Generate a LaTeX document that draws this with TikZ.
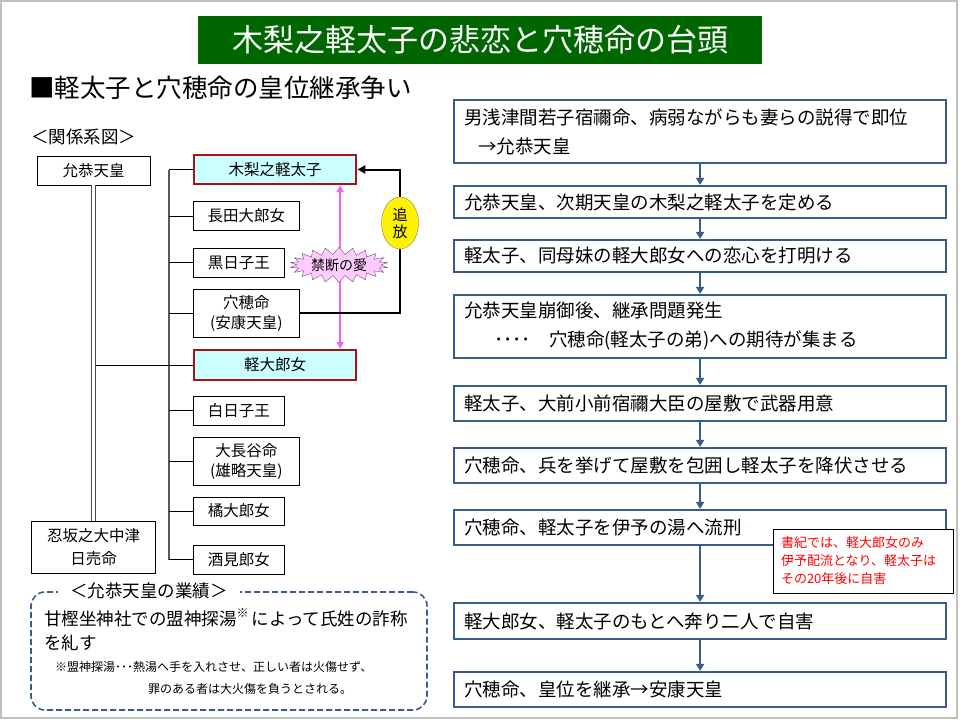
\documentclass[tikz,border=0pt]{standalone}
\usepackage{fontspec}
\setmainfont{Noto Sans CJK JP}
\usepackage{xcolor}
\usepackage{tikz}
\usetikzlibrary{arrows.meta, positioning, shapes.geometric, shapes.symbols, calc}
\definecolor{titlegreen}{RGB}{0, 102, 0}
\definecolor{flowblue}{RGB}{56, 93, 138}
\definecolor{heirred}{RGB}{165, 20, 20}
\definecolor{heircyan}{RGB}{204, 255, 255}
\definecolor{lovepink}{RGB}{240, 100, 240}
\definecolor{burstfill}{RGB}{255, 204, 255}

\begin{document}
\begin{tikzpicture}[
  x=1pt, y=-1pt,
  fam/.style={draw=black, line width=0.9pt, inner sep=0pt, minimum height=29pt, align=center, anchor=west, font=\fontsize{15.5}{20}\selectfont},
  heir/.style={fam, draw=heirred, line width=2.4pt, fill=heircyan, minimum width=162pt},
  flow/.style={draw=flowblue, line width=2.2pt, inner xsep=10pt, inner ysep=0pt, text width=472pt, align=left, anchor=west, font=\fontsize{18.5}{29}\selectfont},
  flowarrow/.style={-{Triangle[length=7pt, width=8pt]}, line width=2.2pt, draw=flowblue},
  branch/.style={line width=0.9pt},
  bus/.style={draw=gray!70!black, line width=1.4pt},
  love/.style={{Triangle[length=7pt, width=7pt]}-{Triangle[length=7pt, width=7pt]}, line width=1.8pt, draw=lovepink},
  banish/.style={-{Triangle[length=8pt, width=8pt]}, line width=2pt},
  burst/.style={starburst, starburst points=22, starburst point height=7pt, random starburst=0, draw=violet!50!gray, fill=burstfill, inner sep=1pt, minimum width=98pt, minimum height=35pt, font=\fontsize{14}{16}\selectfont},
  oval/.style={ellipse, draw=gray, fill=yellow, inner sep=0pt, minimum width=37pt, minimum height=52pt, align=center, font=\fontsize{15}{17}\selectfont},
  plain/.style={inner sep=0pt, anchor=west}
]
  \useasboundingbox (0,0) rectangle (960,720);
  \draw[gray!50, line width=1.5pt] (1,1) rectangle (957,718);

  % Titolo
  \node[fill=titlegreen, text=white, minimum width=564pt, minimum height=48pt, font=\fontsize{31}{36}\selectfont] (title) at (480,40) {木梨之軽太子の悲恋と穴穂命の台頭};
  \node[plain, font=\fontsize{25.5}{30}\selectfont] (subhead) at (29,88) {■軽太子と穴穂命の皇位継承争い};
  \node[plain, font=\fontsize{17.5}{20}\selectfont] (treehead) at (31,137) {＜関係系図＞};

  % Genitori
  \node[fam, anchor=center, minimum width=113pt] (ingyo) at (93.5,170.5) {允恭天皇};
  \node[fam, anchor=center, minimum width=124pt, minimum height=52pt, font=\fontsize{15.5}{23}\selectfont] (osaka) at (93.5,547) {忍坂之大中津\\日売命};

  % Figli
  \node[heir] (kinashi) at (193,169.5) {木梨之軽太子};
  \node[fam, minimum width=106pt] (nagata) at (193,216) {長田大郎女};
  \node[fam, minimum width=91pt] (kurohiko) at (193,262.5) {黒日子王};
  \node[fam, minimum width=106pt, minimum height=48pt] (anaho) at (193,313) {穴穂命\\(安康天皇)};
  \node[heir, minimum height=30pt] (karuoiratsume) at (193,365) {軽大郎女};
  \node[fam, minimum width=91pt] (shirohiko) at (193,410.5) {白日子王};
  \node[fam, minimum width=106pt, minimum height=48pt] (ohatsuse) at (193,461) {大長谷命\\(雄略天皇)};
  \node[fam, minimum width=91pt, minimum height=28pt] (tachibana) at (193,511) {橘大郎女};
  \node[fam, minimum width=91pt] (sakami) at (193,559.5) {酒見郎女};

  \draw[double, draw=gray!60!black, line width=1pt, double distance=2.4pt] (ingyo.south) -- (osaka.north);
  \draw[bus] ([xshift=-24pt]kinashi.west) -- ([xshift=-24pt]sakami.west);
  \foreach \c in {kinashi, nagata, kurohiko, anaho, shirohiko, ohatsuse, tachibana, sakami}
    \draw[branch] (\c.west) -- ++(-24,0);
  \draw[branch] ($(ingyo.south |- karuoiratsume.west)+(2.5,0)$) -- (karuoiratsume.west);

  %禁断の愛 e 追放
  \draw[love] ([xshift=65pt]kinashi.south) -- ([xshift=65pt]karuoiratsume.north);
  \node[burst] (taboo) at (339,265) {禁断の愛};
  \coordinate (bend) at (400,169.5);
  \draw[banish] (anaho.east) -| (bend) -- (kinashi.east);
  \node[oval] (tsuiho) at (400,223) {追\\放};

  %業績
  \node[draw=flowblue, line width=1.6pt, dash pattern=on 6pt off 3pt, rounded corners=14pt, minimum width=396pt, minimum height=118pt] (achv) at (229,651) {};
  \node[fill=white, inner xsep=12pt, inner ysep=1pt, font=\fontsize{17.5}{20}\selectfont] (achvtitle) at (149,591) {＜允恭天皇の業績＞};
  \node[plain, font=\fontsize{17.5}{20}\selectfont] (achv1) at (44,618) {甘樫坐神社での盟神探湯\raisebox{8pt}{\fontsize{12}{12}\selectfont ※}\hspace{3pt}によって氏姓の詐称};
  \node[plain, font=\fontsize{17.5}{20}\selectfont] (achv2) at (44,643) {を糺す};
  \node[plain, font=\fontsize{12}{14}\selectfont] (note1) at (55,667) {※盟神探湯･･･熱湯へ手を入れさせ、正しい者は火傷せず、};
  \node[plain, font=\fontsize{12}{14}\selectfont] (note2) at (148,689) {罪のある者は大火傷を負うとされる。};

  % Passi
  \node[flow, minimum height=63pt] (f1) at (453,131.5) {男浅津間若子宿禰命、病弱ながらも妻らの説得で即位\\\hspace*{14pt}→允恭天皇};
  \node[flow, minimum height=32pt] (f2) at (453,202) {允恭天皇、次期天皇の木梨之軽太子を定める};
  \node[flow, minimum height=32pt] (f3) at (453,256) {軽太子、同母妹の軽大郎女への恋心を打明ける};
  \node[flow, minimum height=63pt] (f4) at (453,326.5) {允恭天皇崩御後、継承問題発生\\\hspace*{30pt}････\hspace{18pt}穴穂命(軽太子の弟)への期待が集まる};
  \node[flow, minimum height=35pt] (f5) at (453,403.5) {軽太子、大前小前宿禰大臣の屋敷で武器用意};
  \node[flow, minimum height=35pt] (f6) at (453,465.5) {穴穂命、兵を挙げて屋敷を包囲し軽太子を降伏させる};
  \node[flow, minimum height=35pt] (f7) at (453,527.5) {穴穂命、軽太子を伊予の湯へ流刑};
  \node[flow, minimum height=36pt] (f8) at (453,621) {軽大郎女、軽太子のもとへ奔り二人で自害};
  \node[flow, minimum height=35pt] (f9) at (453,689.5) {穴穂命、皇位を継承→安康天皇};

  \foreach \a/\b in {f1/f2, f2/f3, f3/f4, f4/f5, f5/f6, f6/f7, f7/f8, f8/f9}
    \draw[flowarrow] (\a) -- (\b);

  % Nota
  \node[draw=black, line width=1pt, fill=white, text=red, align=left, text width=164pt, inner xsep=8pt, inner ysep=0pt, minimum height=64pt, font=\fontsize{13}{18}\selectfont] (shoki) at (863,561) {書紀では、軽大郎女のみ\\伊予配流となり、軽太子は\\その20年後に自害};

\end{tikzpicture}
\end{document}
